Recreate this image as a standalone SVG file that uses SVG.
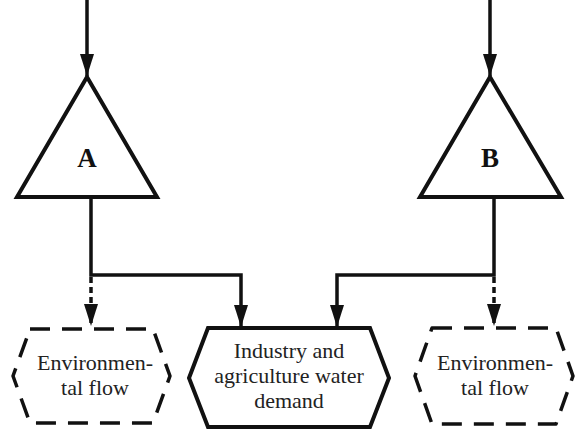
<svg xmlns="http://www.w3.org/2000/svg" width="575" height="434" viewBox="0 0 575 434">
  <style>
    .shape { fill: #fff; stroke: #111; stroke-width: 4; stroke-linejoin: miter; }
    .dashed { fill: #fff; stroke: #111; stroke-width: 3.5; stroke-dasharray: 20 12; stroke-linejoin: round; }
    .wire { fill: none; stroke: #111; stroke-width: 3.5; }
    .wire-dash { fill: none; stroke: #111; stroke-width: 3.5; stroke-dasharray: 6 4; }
    .big { font-weight: bold; font-size: 27px; fill: #111; text-anchor: middle; }
    .lbl { font-size: 22px; fill: #222; text-anchor: middle; }
  </style>
  <defs>
    <marker id="arrow" viewBox="0 0 22 14" refX="22" refY="7" markerWidth="22" markerHeight="14" markerUnits="userSpaceOnUse" orient="auto">
      <path d="M0,0 L22,7 L0,14 Z" fill="#111"/>
    </marker>
  </defs>

  <rect width="575" height="434" fill="#fff"/>

  <g id="connectors">
    <line class="wire" x1="87" y1="0" x2="87" y2="76" marker-end="url(#arrow)"/>
    <line class="wire" x1="490" y1="0" x2="490" y2="76" marker-end="url(#arrow)"/>
    <polyline class="wire" points="91,197 91,275 241,275 241,327" marker-end="url(#arrow)"/>
    <polyline class="wire" points="494,197 494,275 337,275 337,327" marker-end="url(#arrow)"/>
    <line class="wire-dash" x1="91" y1="277" x2="91" y2="326" marker-end="url(#arrow)"/>
    <line class="wire-dash" x1="494" y1="277" x2="494" y2="326" marker-end="url(#arrow)"/>
  </g>

  <g font-family="'Liberation Serif', 'Times New Roman', serif">
    <g id="node-a">
      <polygon class="shape" points="87,77 157,197 17,197"/>
      <text class="big" x="87" y="167">A</text>
    </g>

    <g id="node-b">
      <polygon class="shape" points="490,77 561,197 420,197"/>
      <text class="big" x="490" y="167">B</text>
    </g>

    <g id="node-env-left">
      <polygon class="dashed" points="30,329 153,329 170,376 153,423 30,423 13,376"/>
      <text class="lbl" x="95" y="370">Environmen-</text>
      <text class="lbl" x="95" y="395">tal flow</text>
    </g>

    <g id="node-demand">
      <polygon class="shape" points="208,328 370,328 389,378 370,427 208,427 189,378"/>
      <text class="lbl" x="289" y="358">Industry and</text>
      <text class="lbl" x="289" y="383">agriculture water</text>
      <text class="lbl" x="289" y="408">demand</text>
    </g>

    <g id="node-env-right">
      <polygon class="dashed" points="432,328 556,328 573,376 556,424 432,424 415,376"/>
      <text class="lbl" x="495" y="370">Environmen-</text>
      <text class="lbl" x="495" y="395">tal flow</text>
    </g>
  </g>
</svg>
